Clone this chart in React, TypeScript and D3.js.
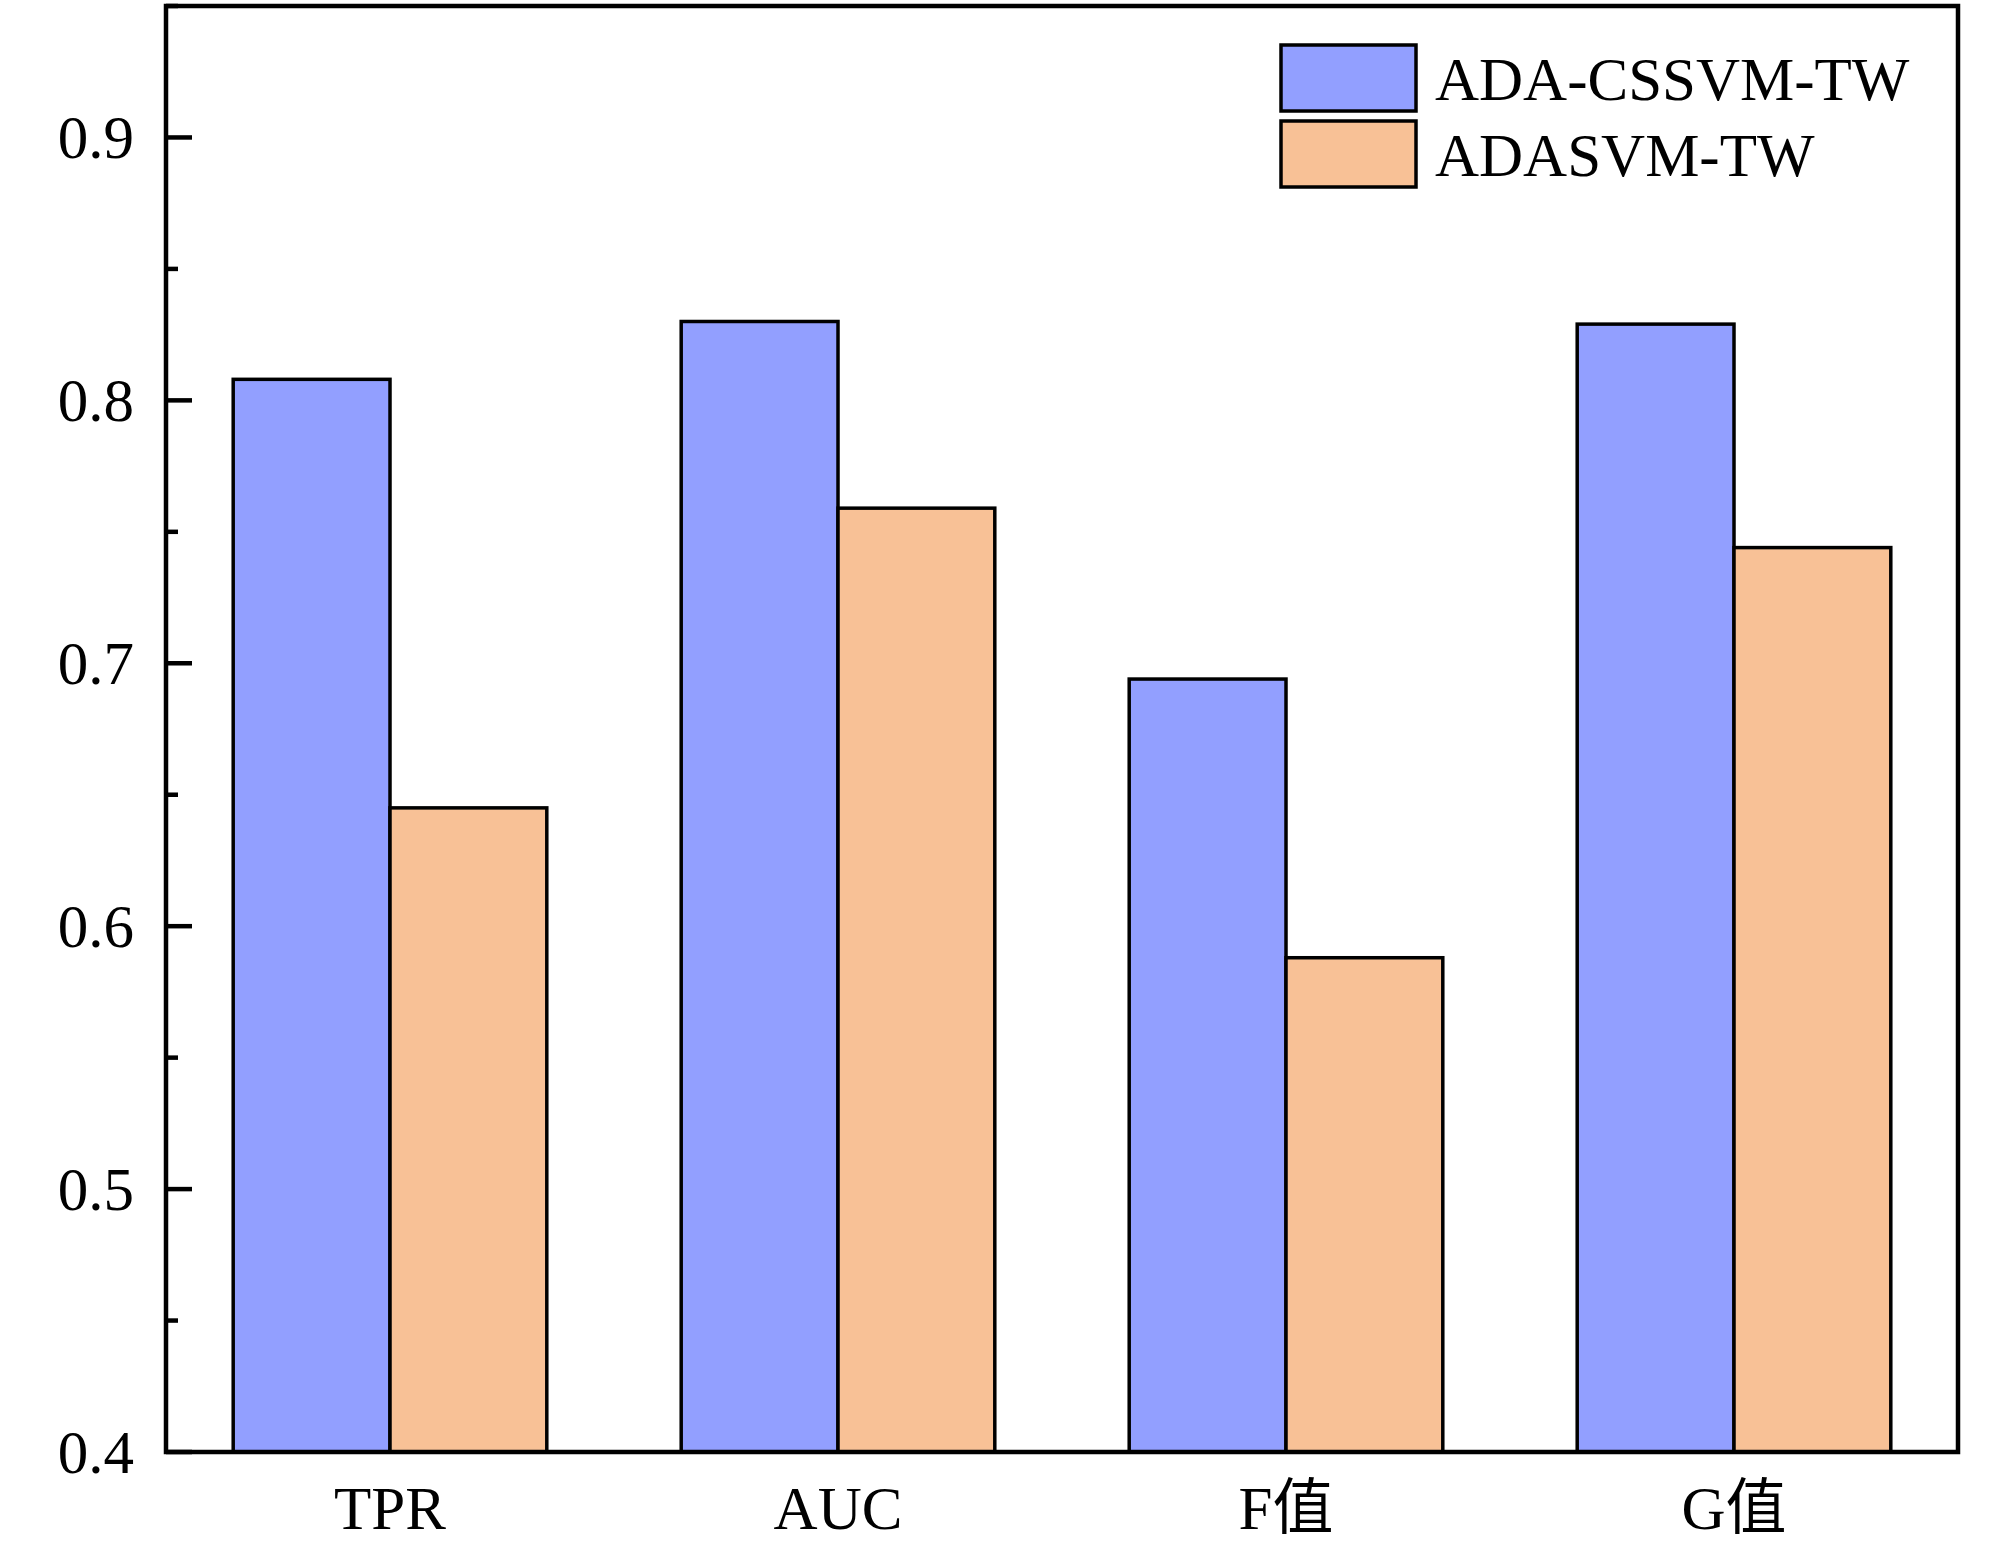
import React, { useEffect } from "react";
import * as d3 from "d3";

const categories = ["TPR", "AUC", "F值", "G值"];
const seriesNames = ["ADA-CSSVM-TW", "ADASVM-TW"];
const adaCssvm = [0.808, 0.83, 0.694, 0.829];
const adaSvm = [0.645, 0.759, 0.588, 0.744];
const majorTicks = [0.4, 0.5, 0.6, 0.7, 0.8, 0.9];
const minorTicks = [0.45, 0.55, 0.65, 0.75, 0.85, 0.95];
const colors = ["#929FFF", "#F8C196"];

const W = 2000;
const H = 1560;
const left = 166;
const right = 1958;
const top = 6;
const bottom = 1452;
const FONT = "'Liberation Serif', 'Times New Roman', 'Noto Sans CJK SC', serif";

export default function App() {
  useEffect(() => {
    document.body.style.margin = "0";
  }, []);

  const x = d3.scaleBand<string>().domain(categories).range([left, right]).padding(0);
  const x1 = d3
    .scaleBand<string>()
    .domain(seriesNames)
    .range([x.bandwidth() * 0.15, x.bandwidth() * 0.85])
    .padding(0);
  const y = d3.scaleLinear().domain([0.4, 0.95]).range([bottom, top]);
  const series = [adaCssvm, adaSvm];

  return (
    <svg width={W} height={H} style={{ display: "block", background: "#fff" }}>
      {/* bars */}
      {categories.map((c, i) => (
        <g key={c}>
          {seriesNames.map((s, j) => (
            <rect
              key={s}
              x={(x(c) as number) + (x1(s) as number)}
              y={y(series[j][i])}
              width={x1.bandwidth()}
              height={y(0.4) - y(series[j][i])}
              fill={colors[j]}
              stroke="#000"
              strokeWidth={3.5}
            />
          ))}
        </g>
      ))}

      {/* y ticks */}
      {majorTicks.map((t) => (
        <g key={"M" + t}>
          <line x1={left} x2={left + 26} y1={y(t)} y2={y(t)} stroke="#000" strokeWidth={4.5} />
          <text
            x={134}
            y={y(t)}
            dy="0.34em"
            textAnchor="end"
            fontFamily={FONT}
            fontSize={61}
            fill="#000"
          >
            {d3.format(".1f")(t)}
          </text>
        </g>
      ))}
      {minorTicks.map((t) => (
        <line key={"m" + t} x1={left} x2={left + 12} y1={y(t)} y2={y(t)} stroke="#000" strokeWidth={4.5} />
      ))}

      {/* x labels */}
      {categories.map((c) => (
        <text
          key={"xl" + c}
          x={(x(c) as number) + x.bandwidth() / 2}
          y={1529}
          textAnchor="middle"
          fontFamily={FONT}
          fontSize={61}
          fill="#000"
        >
          {c}
        </text>
      ))}

      {/* frame */}
      <rect
        x={left}
        y={top}
        width={right - left}
        height={bottom - top}
        fill="none"
        stroke="#000"
        strokeWidth={4.5}
      />

      {/* legend */}
      {seriesNames.map((s, j) => (
        <g key={"lg" + s} transform={`translate(1281, ${45 + j * 76})`}>
          <rect x={0} y={0} width={135} height={66} fill={colors[j]} stroke="#000" strokeWidth={3.5} />
          <text x={154} y={55} fontFamily={FONT} fontSize={61} fill="#000">
            {s}
          </text>
        </g>
      ))}
    </svg>
  );
}
